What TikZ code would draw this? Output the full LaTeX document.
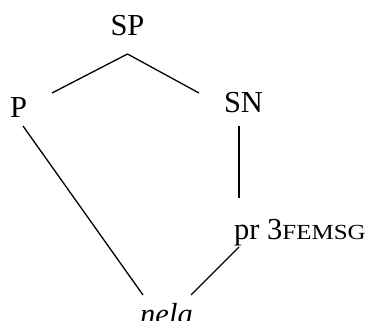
\documentclass[tikz,border=0pt]{standalone}
\usepackage{fontspec}
\setmainfont{Liberation Serif}
\usetikzlibrary{positioning}
\tikzset{
  cat/.style={inner sep=0pt, anchor=base, text=black, font=\fontsize{30.5}{36}\selectfont},
  word/.style={cat, font=\itshape\fontsize{30.5}{36}\selectfont},
  branch/.style={draw=black, line width=1.3pt}
}
\newcommand{\feat}[1]{{\fontsize{21.5}{24}\selectfont\scalebox{1.16}[1]{#1}}}

\begin{document}
\begin{tikzpicture}[x=1pt,y=1pt]
  \useasboundingbox (0,0) rectangle (370,321);

  % labels of the tree
  \node[cat] (sp) at (127.5,285) {SP};
  \node[cat] (p) at (18.5,203) {P};
  \node[cat] (sn) at (243.5,208.5) {SN};
  \node[cat, anchor=base west] (pr) at (234,81) {pr 3\feat{FEMSG}};
  \node[word] (nela) at (166.5,-4) {nela};

  % branches
  \draw[branch] ([xshift=33.5pt,yshift=25pt]p.base) -- ([yshift=-18pt]sp.base)
    -- ([xshift=-44.5pt,yshift=19.5pt]sn.base);
  \draw[branch] ([xshift=4.5pt,yshift=-8pt]p.base) -- ([xshift=-23.5pt,yshift=30pt]nela.base);
  \draw[branch] ([xshift=-4.5pt,yshift=-13.5pt]sn.base) -- ([xshift=5pt,yshift=42pt]pr.base west);
  \draw[branch] ([xshift=5pt,yshift=-7pt]pr.base west) -- ([xshift=24.5pt,yshift=30pt]nela.base);
\end{tikzpicture}
\end{document}
